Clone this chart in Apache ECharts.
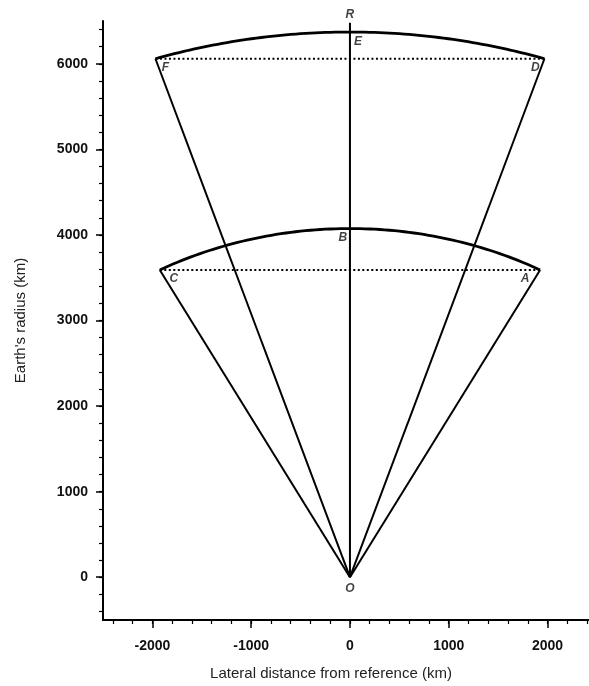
<!DOCTYPE html>
<html>
<head>
<meta charset="utf-8">
<script src="https://cdn.jsdelivr.net/npm/echarts@6/dist/echarts.min.js"></script>
<style>html,body{margin:0;padding:0;background:#fff}#c{width:589px;height:686px}</style>
</head>
<body>
<div id="c"></div>
<script>
// ---- data (km) ----
const xMajorTicks = [-2000, -1000, 0, 1000, 2000];
const xMinorTicks = [-2400, -2200, -2000, -1800, -1600, -1400, -1200, -1000, -800, -600, -400, -200, 0, 200, 400, 600, 800, 1000, 1200, 1400, 1600, 1800, 2000, 2200, 2400];
const yMajorTicks = [0, 1000, 2000, 3000, 4000, 5000, 6000];
const yMinorTicks = [-400, -200, 0, 200, 400, 600, 800, 1000, 1200, 1400, 1600, 1800, 2000, 2200, 2400, 2600, 2800, 3000, 3200, 3400, 3600, 3800, 4000, 4200, 4400, 4600, 4800, 5000, 5200, 5400, 5600, 5800, 6000, 6200, 6400];

const pointNames = ['O', 'C', 'A', 'B', 'F', 'D', 'E', 'R'];
const pointX =     [0, -1925, 1925, 0, -1969, 1969, 0, 0];
const pointY =     [0, 3591, 3591, 4075, 6059, 6059, 6371, 6480];

// label offsets in pixels (style only)
const labelOffsets = {O:[0,11], C:[14,9], A:[-15,9], B:[-7,9], F:[10,9], D:[-9,9], E:[8,10], R:[0,-8]};

function P(n){ const i = pointNames.indexOf(n); return [pointX[i], pointY[i]]; }

// circular arc about O passing through end points p and q (symmetric)
function arc(p, q, n){
  const r = Math.hypot(p[0], p[1]);
  const a0 = Math.atan2(p[1], p[0]), a1 = Math.atan2(q[1], q[0]);
  const pts = [];
  for (let k = 0; k <= n; k++){
    const a = a0 + (a1 - a0) * k / n;
    pts.push([r * Math.cos(a), r * Math.sin(a)]);
  }
  return pts;
}

const font = "'Liberation Sans', Arial, sans-serif";
const black = '#000';

function seg(data, width, type){
  return {type:'line', data:data, symbol:'none', silent:true, clip:false,
    lineStyle:{color:black, width:width, type:type||'solid'}, z:3};
}

const series = [
  seg([P('O'), P('C')], 2),
  seg([P('O'), P('A')], 2),
  seg([P('O'), P('F')], 2),
  seg([P('O'), P('D')], 2),
  seg([P('O'), P('R')], 2),
  seg([P('C'), P('A')], 2, [2, 2.5]),
  seg([P('F'), P('D')], 2, [2, 2.5]),
  seg(arc(P('C'), P('A'), 80), 2.8),
  seg(arc(P('F'), P('D'), 80), 2.8),
  {
    type:'scatter', symbolSize:0, silent:true, clip:false, z:5,
    data: pointNames.map((n,i)=>({name:n, value:[pointX[i], pointY[i]],
      label:{show:true, position:'inside', offset:labelOffsets[n], formatter:n,
        fontFamily:font, fontSize:12, fontWeight:'bold', fontStyle:'italic', color:'#111'}}))
  }
];

const plain = v => String(v);

const chart = echarts.init(document.getElementById('c'), null, {renderer:'canvas'});
chart.setOption({
  animation:false,
  backgroundColor:'#fff',
  grid:{left:103, right:0, top:21, bottom:59, containLabel:false},
  xAxis:[{
    type:'value', min:-2500, max:2420, position:'bottom',
    axisLine:{show:true, onZero:false, lineStyle:{color:black, width:2}},
    axisTick:{show:true, customValues:xMajorTicks, length:8, lineStyle:{color:black, width:1.5}},
    axisLabel:{customValues:xMajorTicks, formatter:plain, margin:19, fontFamily:font, fontSize:14, fontWeight:'bold', color:'#111'},
    splitLine:{show:false},
    name:'Lateral distance from reference (km)', nameLocation:'middle', nameGap:46,
    nameTextStyle:{fontFamily:font, fontSize:15, color:'#222', padding:[0,30,0,0]}
  },{
    type:'value', min:-2500, max:2420, position:'bottom',
    axisLine:{show:false, onZero:false},
    axisTick:{show:true, customValues:xMinorTicks, length:4, lineStyle:{color:black, width:1.2}},
    axisLabel:{show:false}, splitLine:{show:false}
  }],
  yAxis:[{
    type:'value', min:-500, max:6500, position:'left',
    axisLine:{show:true, onZero:false, lineStyle:{color:black, width:2}},
    axisTick:{show:true, customValues:yMajorTicks, length:7, lineStyle:{color:black, width:1.5}},
    axisLabel:{customValues:yMajorTicks, formatter:plain, margin:15, fontFamily:font, fontSize:14, fontWeight:'bold', color:'#111'},
    splitLine:{show:false},
    name:"Earth's radius (km)", nameLocation:'middle', nameGap:75,
    nameTextStyle:{fontFamily:font, fontSize:15, color:'#222'}
  },{
    type:'value', min:-500, max:6500, position:'left',
    axisLine:{show:false, onZero:false},
    axisTick:{show:true, customValues:yMinorTicks, length:4, lineStyle:{color:black, width:1.2}},
    axisLabel:{show:false}, splitLine:{show:false}
  }],
  series:series
});
</script>
</body>
</html>
